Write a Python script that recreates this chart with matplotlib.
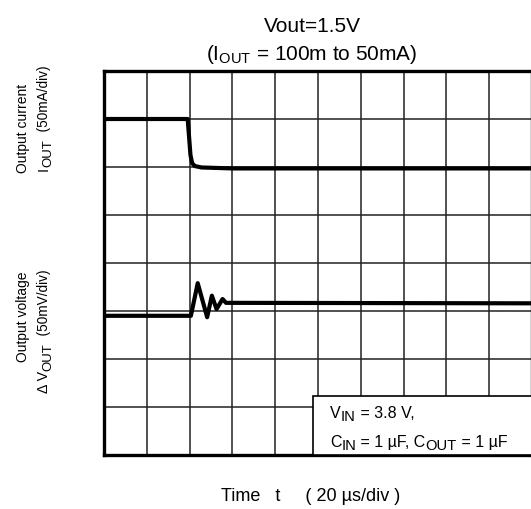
import matplotlib
matplotlib.use("Agg")
import matplotlib.pyplot as plt
from matplotlib.patches import Rectangle

plt.rcParams['font.family'] = ['Liberation Sans', 'DejaVu Sans']
plt.rcParams['mathtext.fontset'] = 'custom'
plt.rcParams['mathtext.rm'] = 'Liberation Sans'
plt.rcParams['mathtext.it'] = 'Liberation Sans:italic'

W, H = 531, 510

# scope grid: 10 x 8 divisions, 20 us/div
n_xdiv = 10
n_ydiv = 8
us_per_div = 20

# output current trace (grid divisions, 50 mA/div)
t_iout = [0, 39.1, 39.8, 40.4, 41.2, 42.4, 45.6, 60, 200]
iout_div = [7.0, 7.0, 6.6, 6.25, 6.08, 6.02, 5.99, 5.97, 5.97]

# output voltage trace (grid divisions, 50 mV/div)
t_vout = [0, 40.6, 43.8, 48.2, 50.4, 52.6, 55.4, 57.0, 200]
vout_div = [2.90, 2.90, 3.58, 2.87, 3.32, 3.04, 3.25, 3.17, 3.16]

fig = plt.figure(figsize=(W / 100, H / 100), dpi=100)
renderer = fig.canvas.get_renderer()


def pieces_text(pieces, x, y, size, rotation=0):
    """Write text pieces one after another starting at pixel (x, y) on the baseline.
    Each piece is (text, drop below baseline in px, size factor)."""
    cursor = 0.0
    for s, drop, scale in pieces:
        if rotation == 90:
            px, py = x + drop, y - cursor
        else:
            px, py = x + cursor, y + drop
        t = fig.text(px / W, 1 - py / H, s, fontsize=size * scale, rotation=rotation,
                     rotation_mode='anchor', ha='left', va='baseline')
        bb = t.get_window_extent(renderer)
        cursor += bb.height if rotation == 90 else bb.width


ax = fig.add_axes([104 / W, 54 / H, 428 / W, 384 / H])
ax.set_xlim(0, n_xdiv * us_per_div)
ax.set_ylim(0, n_ydiv)
ax.set_xticks([i * us_per_div for i in range(n_xdiv + 1)])
ax.set_yticks(range(n_ydiv + 1))
ax.grid(True, color='#222222', linewidth=1.1)
ax.tick_params(length=0, labelbottom=False, labelleft=False)
for side in ax.spines.values():
    side.set_linewidth(2.4)

ax.plot(t_iout, iout_div, color='black', linewidth=3.0, solid_joinstyle='round', zorder=3)
ax.plot(t_vout, vout_div, color='black', linewidth=3.0, solid_joinstyle='round', zorder=3)

# test condition box in the lower right corner
box = Rectangle((0.488, 0.0), 0.6, 0.154, transform=ax.transAxes,
                facecolor='white', edgecolor='black', linewidth=1.2, zorder=4, clip_on=False)
ax.add_patch(box)
pieces_text([('V', 0, 1), ('IN', 3, 0.92), (' = 3.8 V,', 0, 1)], 330, 418, 11.5)
pieces_text([('C', 0, 1), ('IN', 3, 0.92), (' = 1 µF, C', 0, 1), ('OUT', 3, 0.92),
             (' = 1 µF', 0, 1)], 330, 447, 11.5)

# titles and axis descriptions
fig.text(312 / W, 1 - 27 / H, 'Vout=1.5V', fontsize=15, ha='center', va='center')
fig.text(312 / W, 1 - 55 / H, r'(I$_{\mathrm{OUT}}$ = 100m to 50mA)', fontsize=15,
         ha='center', va='center')
fig.text(311 / W, 1 - 497 / H, 'Time   t     ( 20 µs/div )', fontsize=13,
         ha='center', va='center')

fig.text(23 / W, 1 - 84 / H, 'Output current', fontsize=10, rotation=90,
         ha='center', va='top')
pieces_text([('I', 0, 1), ('OUT', 3, 0.92), ('  (50mA/div)', 0, 0.95)], 48, 171, 10.3, rotation=90)
fig.text(23 / W, 1 - 271 / H, 'Output voltage', fontsize=10, rotation=90,
         ha='center', va='top')
pieces_text([('Δ V', 0, 1), ('OUT', 3, 0.92), ('  (50mV/div)', 0, 0.95)], 48, 393, 10.3, rotation=90)

fig.savefig('out.png', dpi=100)
